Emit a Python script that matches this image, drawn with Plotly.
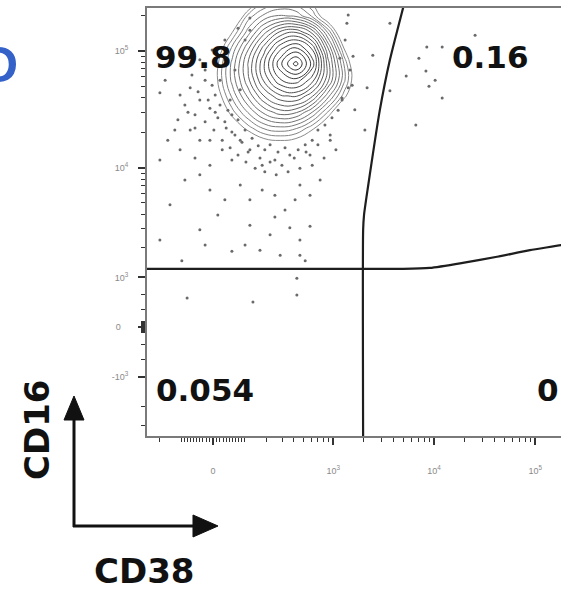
import numpy as np
import plotly.graph_objects as go

# ---------------- data (display units = asinh-scaled fluorescence) ----------------
W_X = 130.0   # asinh cofactor CD38 axis
W_Y = 880.0   # asinh cofactor CD16 axis

x_tick_raw = [0, 1e3, 1e4, 1e5]
x_tick_text = ["0", "10<sup>3</sup>", "10<sup>4</sup>", "10<sup>5</sup>"]
y_tick_raw = [-1e3, 0, 1e3, 1e4, 1e5]
y_tick_text = ["-10<sup>3</sup>", "0\u00a0\u00a0\u00a0", "10<sup>3</sup>", "10<sup>4</sup>", "10<sup>5</sup>"]

x_minor_raw = ([-200, -100] + [-k * 10 for k in range(1, 10)] + [k * 10 for k in range(1, 10)]
               + [100] + [k * 100 for k in range(2, 10)] + [k * 1000 for k in range(2, 10)]
               + [k * 10000 for k in range(2, 10)])
y_minor_raw = ([-3000, -2000, -600, -300] + [-k * 10 for k in range(1, 10)]
               + [k * 10 for k in range(1, 10)] + [300, 600]
               + [k * 1000 for k in range(2, 10)] + [k * 10000 for k in range(2, 10)] + [200000])

# density grid of the main CD16+ population (scaled units)
density_cd38 = [-0.30, 0.07, 0.43, 0.80, 1.16, 1.53, 1.89, 2.26, 2.62, 2.98, 3.35]
density_cd16 = [6.42, 6.11, 5.80, 5.48, 5.17, 4.85, 4.54, 4.22, 3.91, 3.60, 3.28]
density_z = [
    [-7.2, -5.6, -4.1, -1.5, 0.3, 0.8, 0.6, -0.2, -2.0, -5.0, -8.0],
    [-5.4, -3.6, -1.9, 0.8, 1.8, 2.3, 2.1, 1.0, -1.0, -3.5, -6.8],
    [-4.0, -2.0, -0.1, 1.9, 3.6, 5.0, 5.4, 4.2, 1.5, -1.5, -4.7],
    [-3.0, -0.9, 1.2, 3.2, 5.2, 7.0, 7.8, 6.5, 3.3, 0.0, -2.9],
    [-2.4, -0.3, 1.8, 3.9, 6.0, 8.1, 9.6, 7.5, 4.1, 1.1, -1.8],
    [-2.3, -0.2, 1.8, 3.7, 5.6, 7.1, 7.5, 6.3, 4.0, 1.3, -1.4],
    [-2.5, -0.6, 1.2, 2.9, 4.4, 5.4, 5.6, 4.5, 2.4, 0.3, -1.7],
    [-3.1, -1.3, 0.3, 1.7, 2.9, 3.6, 3.4, 2.2, 0.5, -1.5, -2.5],
    [-4.0, -2.4, -0.9, 0.3, 1.2, 1.5, 1.2, 0.2, -1.2, -2.5, -3.5],
    [-5.0, -3.6, -2.4, -1.4, -0.6, -0.4, -0.6, -1.2, -2.2, -3.3, -4.5],
    [-6.0, -5.0, -3.8, -2.9, -2.3, -2.1, -2.3, -2.8, -3.6, -4.6, -5.8],
]

# outlying events (scaled units)
event_cd38 = [
    -0.75, -0.64, -0.52, -0.41, -0.30, -0.18, -0.07, 0.02, 0.11, 0.21, 0.30, 0.39, 0.50, 0.57,
    0.66, 0.75, 0.84, 0.96, 1.07, 1.18, 1.30, 1.44, 1.57, 1.71, 1.85, 1.98, 2.12, 2.26, 2.39,
    2.53, 2.67, 2.80,
    -1.21, -0.87, -1.21, -0.64, -0.98, -0.30, -0.07, 0.27, 0.11, 0.62, 0.84, 1.12, 1.41, 1.64,
    1.87, 1.98, 2.21, 2.44, 0.84, 1.30, 1.75, 1.98, 1.53, 0.73, -0.30, 0.43, 1.07, 1.98, -0.71,
    -0.18, 1.41, 2.21, -1.21, 2.10,
    -0.59, 0.91, 1.91, 1.91,
    -1.09, -0.93, -0.80, -0.52, -0.30, -0.18, 0.05, -1.03, -0.75, -0.41, -0.07, 0.27, 0.50,
    0.73, 0.62, 0.84, 0.39, 0.16, 0.43,
    3.05, 2.89, 3.19, 3.64, 3.08, 3.51, 2.94, 3.46, 3.23, 4.03,
    4.87, 5.22, 4.69, 4.85, 4.40, 5.06, 4.92, 5.22, 4.62, 4.03, 5.97,
    -0.18, -0.02, -0.34, -0.11, 0.16, 0.05, 0.34, 0.27, 0.57, 0.43, 0.73, 0.62, 0.89, 1.03,
    0.80, 1.18, 1.30, 1.48, 1.64, 1.75, 1.94, 2.10, 2.26, 2.39, 2.55, 2.71, 2.85, 2.94, 2.67,
    2.21, 1.41, 1.12, 0.43, 0.21, -0.07, -0.41, -0.57, -0.48, -0.30, -0.02, 0.27, 0.57, 0.84,
    3.12, 3.17, 3.01, 3.08,
]
event_cd16 = [
    4.56, 4.36, 4.70, 4.17, 4.46, 4.03, 4.30, 3.87, 4.11, 3.67, 3.91, 3.52, 3.77, 3.38,
    3.63, 3.24, 3.48, 3.12, 3.32, 3.05, 3.24, 2.99, 3.18, 3.05, 3.32, 3.12, 3.44, 3.18, 3.58,
    3.32, 3.67, 3.48,
    4.60, 3.87, 3.28, 2.89, 2.40, 2.99, 2.69, 2.50, 2.20, 2.79, 2.50, 2.69, 2.59, 2.30,
    2.50, 2.79, 2.59, 2.89, 2.00, 1.81, 1.95, 1.71, 1.41, 1.61, 1.91, 1.49, 1.51, 1.41, 1.30,
    1.61, 2.16, 1.98, 1.71, 1.30,
    0.57, 0.49, 0.63, 0.96,
    4.85, 5.25, 4.07, 3.87, 3.67, 4.85, 4.56, 3.67, 3.48, 3.32, 3.18, 5.25, 5.05,
    5.64, 4.66, 5.83, 4.46, 4.85, 4.17,
    5.97, 5.28, 5.32, 5.34, 4.70, 4.70, 4.50, 3.87, 4.27, 5.97,
    5.50, 5.50, 5.28, 5.03, 4.93, 4.85, 4.73, 4.50, 3.97, 4.64, 5.73,
    5.05, 4.75, 4.62, 4.46, 4.36, 4.22, 4.26, 4.03, 4.07, 3.83, 3.87, 3.67, 3.71, 3.56,
    3.44, 3.48, 3.58, 3.44, 3.52, 3.38, 3.48, 3.58, 3.67, 3.87, 3.97, 4.11, 4.26, 4.46, 3.77,
    3.38, 3.28, 3.18, 3.28, 3.48, 3.67, 3.91, 4.22, 4.95, 5.25, 5.44, 5.64, 5.87, 6.07,
    5.05, 4.75, 5.64, 6.13,
]

# quadrant gate (scaled units)
gate_v_cd38 = [3.42, 3.42, 3.44, 3.53, 3.80, 4.03, 4.33, 4.40]
gate_v_cd16 = [-2.3, 1.91, 2.20, 2.75, 4.26, 5.25, 6.27, 6.5]
gate_h_cd38 = [-1.7, 4.33, 4.94, 5.69, 6.47, 7.22, 7.93, 8.2]
gate_h_cd16 = [1.14, 1.14, 1.16, 1.26, 1.38, 1.51, 1.61, 1.66]

quadrant_pcts = ["99.8", "0.16", "0.054", "0"]
x_label = "CD38"
y_label = "CD16"
panel_letter = "D"

# ---------------- layout geometry ----------------
W, H = 561, 593
ML, MR, MT, MB = 147, 0, 8, 157
PW, PH = W - ML - MR, H - MT - MB


def px(xp):
    return (xp - ML) / PW


def py(yp):
    return (H - MB - yp) / PH


def tx(v):
    return np.arcsinh(np.asarray(v, dtype=float) / W_X)


def ty(v):
    return np.arcsinh(np.asarray(v, dtype=float) / W_Y)


fig = go.Figure()

fig.add_trace(go.Contour(
    x=density_cd38, y=density_cd16, z=density_z,
    contours=dict(start=0.0, end=9.4, size=0.55, coloring="lines"),
    colorscale=[[0, "#8a8a8a"], [1, "#2a2a2a"]],
    line=dict(width=1, smoothing=1.3), showscale=False, hoverinfo="skip",
))

fig.add_trace(go.Scatter(
    x=event_cd38, y=event_cd16, mode="markers",
    marker=dict(size=3, color="#6a6a6a"), hoverinfo="skip",
))

fig.add_trace(go.Scatter(
    x=gate_h_cd38, y=gate_h_cd16, mode="lines",
    line=dict(color="#1e1e1e", width=2.2, shape="spline", smoothing=0.6), hoverinfo="skip",
))
fig.add_trace(go.Scatter(
    x=gate_v_cd38, y=gate_v_cd16, mode="lines",
    line=dict(color="#1e1e1e", width=2.2, shape="spline", smoothing=0.6), hoverinfo="skip",
))

tick_font = dict(family="Liberation Sans", size=9, color="#8a8a8a")

fig.update_xaxes(
    range=[(147 - 213) / 43.9, (561 - 213) / 43.9],
    tickmode="array", tickvals=tx(x_tick_raw).tolist(), ticktext=x_tick_text,
    ticks="outside", ticklen=7, tickwidth=1.5, tickcolor="#333",
    minor=dict(tickmode="array", tickvals=tx(x_minor_raw).tolist(), ticks="outside",
               ticklen=4, tickwidth=1.2, tickcolor="#333", showgrid=False),
    showline=True, linecolor="#7a7a7a", linewidth=2, mirror=True,
    showgrid=False, zeroline=False, tickfont=tick_font, ticklabelstandoff=18,
)
fig.update_yaxes(
    range=[(327 - 436) / 50.9, (327 - 8) / 50.9],
    tickmode="array", tickvals=ty(y_tick_raw).tolist(), ticktext=y_tick_text,
    ticks="outside", ticklen=7, tickwidth=1.5, tickcolor="#333",
    minor=dict(tickmode="array", tickvals=ty(y_minor_raw).tolist(), ticks="outside",
               ticklen=4, tickwidth=1.2, tickcolor="#333", showgrid=False),
    showline=True, linecolor="#7a7a7a", linewidth=2, mirror=False,
    showgrid=False, zeroline=False, tickfont=tick_font, ticklabelstandoff=8,
)

num_font = dict(family="DejaVu Sans", size=31, color="#111111")
label_pos = [(193, 57), (490, 57), (205, 390), (548, 390)]
annotations = []
for txt, (xp, yp) in zip(quadrant_pcts, label_pos):
    annotations.append(dict(text="<b>%s</b>" % txt, x=px(xp), y=py(yp), xref="paper", yref="paper",
                            showarrow=False, xanchor="center", yanchor="middle", font=num_font))

cd_font = dict(family="DejaVu Sans", size=34, color="#111111")
annotations.append(dict(text="<b>%s</b>" % x_label, x=px(144), y=py(571), xref="paper", yref="paper",
                        showarrow=False, xanchor="center", yanchor="middle", font=cd_font))
annotations.append(dict(text="<b>%s</b>" % y_label, x=px(37), y=py(430), xref="paper", yref="paper",
                        showarrow=False, xanchor="center", yanchor="middle", textangle=-90, font=cd_font))
annotations.append(dict(text="<b>%s</b>" % panel_letter, x=px(20), y=py(65), xref="paper", yref="paper",
                        showarrow=False, xanchor="right", yanchor="middle",
                        font=dict(family="Liberation Sans", size=50, color="#3462c9")))

shapes = [
    dict(type="line", xref="paper", yref="paper", x0=px(74), y0=py(527), x1=px(74), y1=py(415),
         line=dict(color="#111", width=3)),
    dict(type="line", xref="paper", yref="paper", x0=px(73), y0=py(526), x1=px(198), y1=py(526),
         line=dict(color="#111", width=3)),
    dict(type="path", xref="paper", yref="paper",
         path="M %f %f L %f %f L %f %f Z" % (px(74), py(396), px(64), py(420), px(84), py(420)),
         fillcolor="#111", line=dict(color="#111", width=1)),
    dict(type="path", xref="paper", yref="paper",
         path="M %f %f L %f %f L %f %f Z" % (px(218), py(526), px(193), py(515), px(193), py(537)),
         fillcolor="#111", line=dict(color="#111", width=1)),
]

fig.update_layout(
    width=W, height=H, margin=dict(l=ML, r=MR, t=MT, b=MB),
    paper_bgcolor="white", plot_bgcolor="white", showlegend=False,
    annotations=annotations, shapes=shapes,
)

fig.write_html("out.html", config={"displayModeBar": False},
               post_script="document.body.style.margin='0';document.body.style.padding='0';"
                           "document.body.style.overflow='hidden';")
